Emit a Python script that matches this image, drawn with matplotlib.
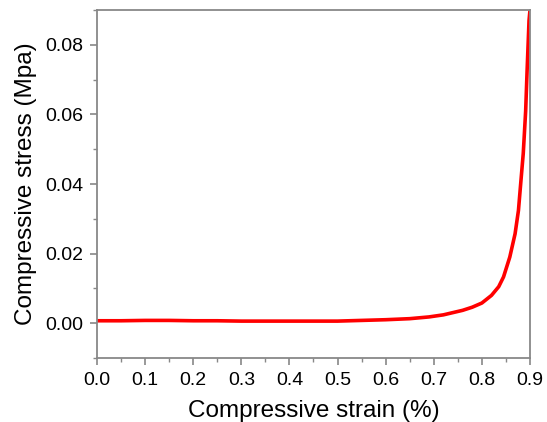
import matplotlib.pyplot as plt
from matplotlib.ticker import MultipleLocator

plt.rcParams['font.family'] = ['Liberation Sans', 'DejaVu Sans']

strain = [0.00, 0.05, 0.10, 0.15, 0.20, 0.25, 0.30, 0.35, 0.40, 0.45, 0.50,
          0.55, 0.60, 0.65, 0.69, 0.72, 0.76, 0.78, 0.80, 0.82, 0.835, 0.845,
          0.858, 0.869, 0.876, 0.880, 0.886, 0.891, 0.894, 0.898, 0.900]
stress = [0.0007, 0.0007, 0.0008, 0.0008, 0.0007, 0.0007, 0.0006, 0.0006, 0.0006, 0.0006, 0.0006,
          0.0008, 0.0010, 0.0013, 0.0018, 0.0024, 0.0037, 0.0046, 0.0058, 0.0080, 0.0105, 0.0133,
          0.0190, 0.0257, 0.0324, 0.0390, 0.0488, 0.0610, 0.0726, 0.0870, 0.0900]

fig = plt.figure(figsize=(5.47, 4.22), dpi=100)
ax = fig.add_axes([0.1773, 0.1517, 0.7916, 0.8243])

ax.plot(strain, stress, color="#ff0000", linewidth=2.6)

ax.set_xlim(0, 0.9)
ax.set_ylim(-0.01, 0.09)
ax.xaxis.set_minor_locator(MultipleLocator(0.05))
ax.yaxis.set_minor_locator(MultipleLocator(0.01))
ax.set_xticks([0.0, 0.1, 0.2, 0.3, 0.4, 0.5, 0.6, 0.7, 0.8, 0.9])
ax.set_xticklabels(["0.0", "0.1", "0.2", "0.3", "0.4", "0.5", "0.6", "0.7", "0.8", "0.9"])
ax.set_yticks([0.0, 0.02, 0.04, 0.06, 0.08])
ax.set_yticklabels(["0.00", "0.02", "0.04", "0.06", "0.08"])

for s in ax.spines.values():
    s.set_color("#888888")
    s.set_linewidth(1.3)
ax.tick_params(which="major", direction="out", length=5, width=1.2, color="#888888",
               labelsize=14, labelcolor="black", pad=5)
ax.tick_params(which="minor", direction="out", length=3, width=1.0, color="#888888")

ax.set_xlabel("Compressive strain (%)", fontsize=17.5, labelpad=8)
ax.set_ylabel("Compressive stress (Mpa)", fontsize=17.5, labelpad=6)

plt.savefig("out.png", dpi=100)
